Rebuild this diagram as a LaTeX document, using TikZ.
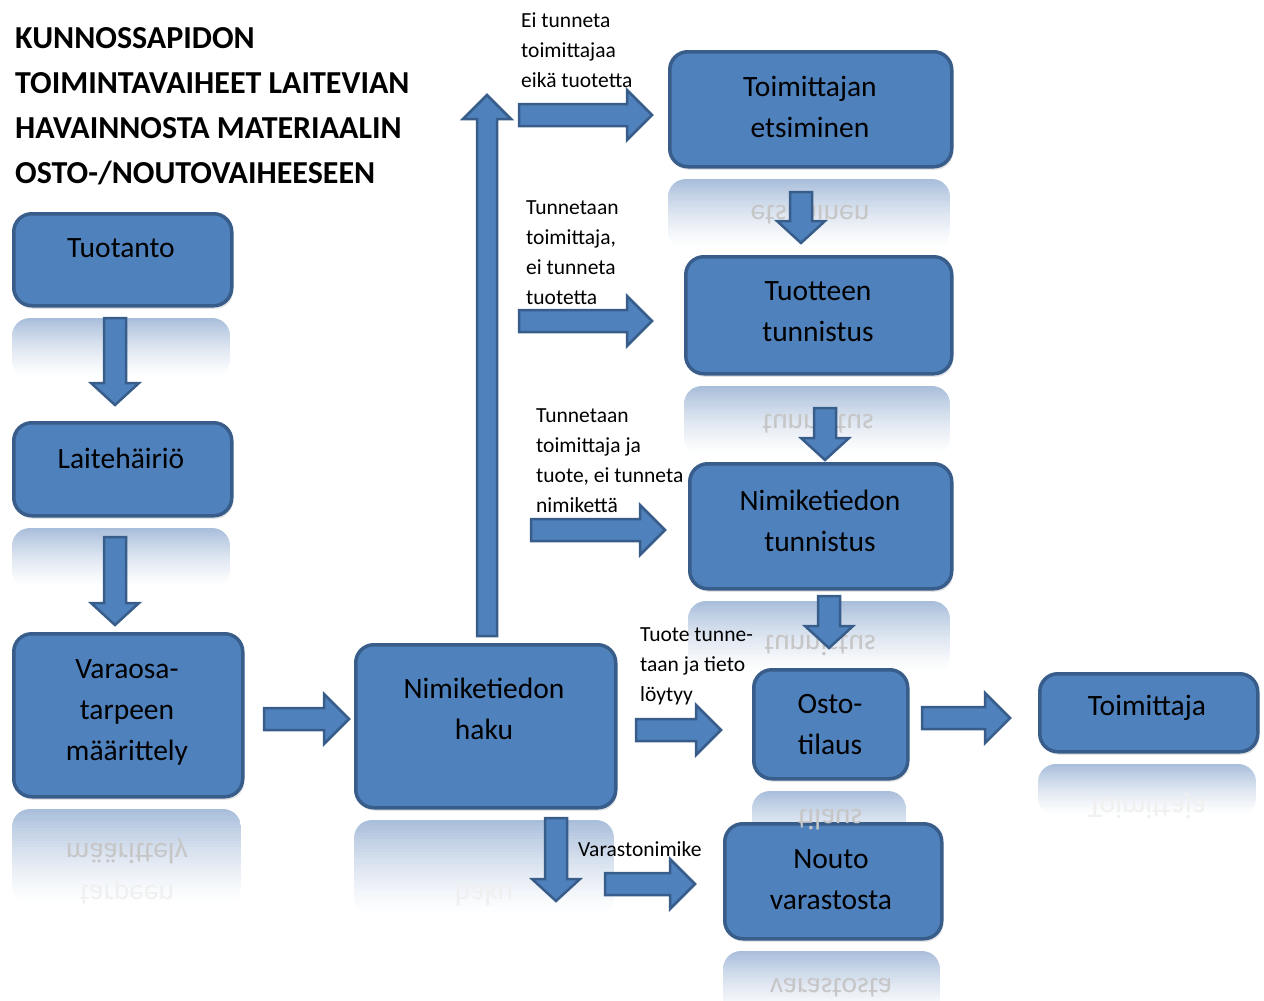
\documentclass[tikz,border=0pt]{standalone}
\usepackage{fontspec}
\setmainfont{Carlito}
\usepackage{graphicx}
\usetikzlibrary{shadows,calc}
\definecolor{boxfill}{HTML}{4F81BD}
\definecolor{boxline}{HTML}{385D8A}
\definecolor{reflc}{HTML}{A9BEDB}
\tikzset{
  box/.style={draw=boxline, fill=boxfill, line width=3.5pt, rounded corners=18pt,
    drop shadow={opacity=0.22, shadow xshift=1.5pt, shadow yshift=-3pt}},
  boxtext/.style={font=\fontsize{29.5}{41}\selectfont, align=center, text=black, inner sep=0pt},
  lbl/.style={font=\fontsize{21.5}{30}\selectfont, align=left, anchor=west, inner sep=0pt, text=black},
  title/.style={font=\bfseries\fontsize{32}{45}\selectfont, align=left, anchor=west, inner sep=0pt},
  refltext/.style={font=\fontsize{29.5}{41}\selectfont, text=gray!45, inner sep=0pt},
  refltextb/.style={refltext, text=gray!12},
  barrow/.style={draw=boxline, fill=boxfill, line width=2.5pt, line join=miter},
}
% box: name, x1, y1, x2, y2, reflection height
\newcommand\flowbox[6]{%
  \begin{scope}
    \clip[rounded corners=18pt] (#2,#5+14) rectangle (#4,#5+14+#6);
    \foreach \i in {0,...,29}{
      \pgfmathtruncatemacro\pc{100*(1-\i/30)^1.4}
      \fill[reflc!\pc!white] (#2,{#5+14+\i*#6/30}) rectangle (#4,{#5+14+(\i+1)*#6/30+0.6});
    }
  \end{scope}
  \node[box, minimum width={#4-#2}, minimum height={#5-#3}, anchor=north west] (#1) at (#2,#3) {};
}
% block arrows between named coordinates
\newcommand\rarrow[2]{%
  \draw[barrow] ($(#1)+(0,-11)$) -- ($(#2)+(-25,-11)$) -- ($(#2)+(-25,-25)$) -- (#2)
    -- ($(#2)+(-25,25)$) -- ($(#2)+(-25,11)$) -- ($(#1)+(0,11)$) -- cycle;}
\newcommand\darrow[2]{%
  \draw[barrow] ($(#1)+(-11,0)$) -- ($(#2)+(-11,-22)$) -- ($(#2)+(-24,-22)$) -- (#2)
    -- ($(#2)+(24,-22)$) -- ($(#2)+(11,-22)$) -- ($(#1)+(11,0)$) -- cycle;}
\newcommand\uarrow[2]{%
  \draw[barrow] ($(#1)+(-10,0)$) -- ($(#2)+(-10,24)$) -- ($(#2)+(-24,24)$) -- (#2)
    -- ($(#2)+(24,24)$) -- ($(#2)+(10,24)$) -- ($(#1)+(10,0)$) -- cycle;}
\begin{document}
\begin{tikzpicture}[x=1pt, y=-1pt]
\useasboundingbox (0,0) rectangle (1264,1001);

% ---- boxes with reflections
\flowbox{tuotanto}{12}{212}{230}{304}{60}
\flowbox{laite}{12}{421}{230}{514}{60}
\flowbox{varaosa}{12}{632}{241}{795}{95}
\flowbox{haku}{354}{643}{614}{806}{95}
\flowbox{etsi}{668}{50}{950}{165}{70}
\flowbox{tuotteen}{684}{255}{950}{372}{70}
\flowbox{nimtun}{688}{462}{950}{587}{72}
\flowbox{osto}{752}{668}{906}{777}{62}
\flowbox{toimittaja}{1038}{672}{1256}{750}{52}
\flowbox{nouto}{723}{822}{940}{937}{64}

% ---- reflected texts
\node[refltext] (r-varaosa1) at (127,851) {\scalebox{1}[-1]{määrittely}};
\node[refltextb] (r-varaosa2) at (127,892) {\scalebox{1}[-1]{tarpeen}};
\node[refltextb] (r-haku) at (484,896) {\scalebox{1}[-1]{haku}};
\node[refltext] (r-etsi) at (810,216) {\scalebox{1}[-1]{etsiminen}};
\node[refltext] (r-tuotteen) at (818,425) {\scalebox{1}[-1]{tunnistus}};
\node[refltext] (r-nimtun) at (820,646) {\scalebox{1}[-1]{tunnistus}};
\node[refltext] (r-osto) at (830,820) {\scalebox{1}[-1]{tilaus}};
\node[refltextb] (r-toimittaja) at (1147,806) {\scalebox{1}[-1]{Toimittaja}};
\node[refltext] (r-nouto) at (831,988) {\scalebox{1}[-1]{varastosta}};

% ---- box texts
\node[boxtext] (t-tuotanto) at (121,248) {Tuotanto};
\node[boxtext] (t-laite) at (121,458) {Laitehäiriö};
\node[boxtext] (t-varaosa) at (127,712) {Varaosa-\\tarpeen\\määrittely};
\node[boxtext] (t-haku) at (484,709) {Nimiketiedon\\haku};
\node[boxtext] (t-etsi) at (810,107) {Toimittajan\\etsiminen};
\node[boxtext] (t-tuotteen) at (818,312) {Tuotteen\\tunnistus};
\node[boxtext] (t-nimtun) at (820,521) {Nimiketiedon\\tunnistus};
\node[boxtext] (t-osto) at (830,725) {Osto-\\tilaus};
\node[boxtext] (t-toimittaja) at (1147,708) {Toimittaja};
\node[boxtext] (t-nouto) at (831,880) {Nouto\\varastosta};

% ---- title
\node[title] (title) at (15,106) {KUNNOSSAPIDON\\TOIMINTAVAIHEET LAITEVIAN\\HAVAINNOSTA MATERIAALIN\\OSTO-/NOUTOVAIHEESEEN};

% ---- labels
\node[lbl] (l1) at (521,50) {Ei tunneta\\toimittajaa\\eikä tuotetta};
\node[lbl] (l2) at (526,253) {Tunnetaan\\toimittaja,\\ei tunneta\\tuotetta};
\node[lbl] (l3) at (536,461) {Tunnetaan\\toimittaja ja\\tuote, ei tunneta\\nimikettä};
\node[lbl] (l4) at (640,666) {Tuote tunne-\\taan ja tieto\\löytyy};
\node[lbl] (l5) at (578,849) {Varastonimike};

% ---- arrow coordinates
\coordinate (a1s) at (115,318); \coordinate (a1e) at (115,405);
\coordinate (a2s) at (115,537); \coordinate (a2e) at (115,625);
\coordinate (a3s) at (264,719); \coordinate (a3e) at (349,719);
\coordinate (a4s) at (487,636); \coordinate (a4e) at (487,95);
\coordinate (a5s) at (519,115); \coordinate (a5e) at (652,115);
\coordinate (a6s) at (801,192); \coordinate (a6e) at (801,243);
\coordinate (a7s) at (519,321); \coordinate (a7e) at (652,321);
\coordinate (a8s) at (825,408); \coordinate (a8e) at (825,460);
\coordinate (a9s) at (531,530); \coordinate (a9e) at (665,530);
\coordinate (a10s) at (829,596); \coordinate (a10e) at (829,648);
\coordinate (a11s) at (636,730); \coordinate (a11e) at (721,730);
\coordinate (a12s) at (922,718); \coordinate (a12e) at (1010,718);
\coordinate (a13s) at (556,818); \coordinate (a13e) at (556,901);
\coordinate (a14s) at (605,884); \coordinate (a14e) at (695,884);

% ---- arrows
\darrow{a1s}{a1e}
\darrow{a2s}{a2e}
\rarrow{a3s}{a3e}
\uarrow{a4s}{a4e}
\rarrow{a5s}{a5e}
\darrow{a6s}{a6e}
\rarrow{a7s}{a7e}
\darrow{a8s}{a8e}
\rarrow{a9s}{a9e}
\darrow{a10s}{a10e}
\rarrow{a11s}{a11e}
\rarrow{a12s}{a12e}
\darrow{a13s}{a13e}
\rarrow{a14s}{a14e}
\end{tikzpicture}
\end{document}
